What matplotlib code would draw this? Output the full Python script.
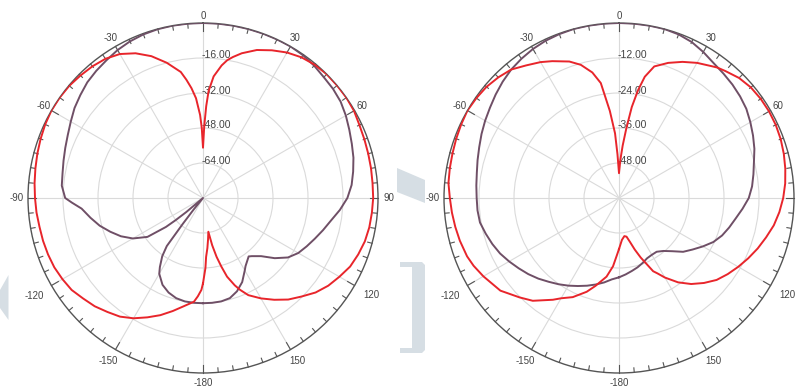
import numpy as np
import matplotlib.pyplot as plt
from matplotlib.patches import Polygon
from matplotlib.transforms import offset_copy

plt.rcParams['font.family'] = ['Liberation Sans', 'DejaVu Sans']

# angle labels, 0 at top, clockwise positive
theta_ticks = [0, 30, 60, 90, 120, 150, 180, 210, 240, 270, 300, 330]
theta_labels = ['0', '30', '60', '90', '120', '150', '-180', '-150', '-120', '-90', '-60', '-30']

# left pattern (dB), range -80..0
left_rings = [-64, -48, -32, -16]
left_red_ang = [-180, -179, -177, -175, -170, -165, -160, -155, -150, -145, -140, -135, -130, -125,
                -120, -115, -110, -105, -100, -95, -90, -85, -80, -75, -70, -65, -60, -55, -50, -45,
                -40, -35, -30, -25, -20, -15, -10, -8, -6, -4, -2, -1, 0, 1, 2, 3, 5, 8, 10, 12, 15,
                20, 25, 30, 35, 40, 45, 50, 55, 60, 65, 70, 75, 80, 85, 90, 95, 100, 105, 110, 115,
                120, 125, 130, 135, 140, 145, 150, 155, 158, 160, 163, 165, 167, 169, 171, 173, 175,
                177, 178, 180]
left_red_db = [-41, -38, -35, -32.4, -29.8, -26.5, -23, -19.8, -16.5, -13.8, -12, -10, -8.5, -6.7,
               -5.8, -5, -4.6, -4.3, -4.1, -3.6, -3.2, -2.7, -2.2, -1.6, -1, -0.4, 0, 0, -0.2, -0.8,
               -1.4, -2.3, -4.0, -7.0, -11, -16, -21.5, -25.4, -29.5, -34.3, -42, -48, -57, -47, -38,
               -31, -24.2, -18.8, -16, -14.1, -11.5, -8, -5.5, -3.2, -1.5, -0.5, 0, 0, 0, -0.3, -1.1,
               -1.5, -1.8, -2.0, -2.2, -2.2, -2.5, -2.8, -3.4, -4.5, -5.8, -8, -10.1, -12.8, -16.3,
               -19.4, -23.2, -27, -31, -34.7, -37.5, -42.4, -47.5, -52.4, -58, -64.4, -61, -57, -53,
               -48, -41]
left_pur_ang = [-180, -175, -170, -165, -160, -155, -150, -148, -145, -143, -142, -141, -139, -132,
                -130, -129, -128, -125, -120, -115, -110, -105, -100, -95, -92, -90, -85, -80, -75,
                -70, -65, -60, -55, -50, -45, -40, -35, -30, -25, -20, -15, -10, -5, 0, 5, 10, 15,
                20, 25, 30, 35, 40, 45, 50, 55, 60, 65, 70, 75, 80, 85, 90, 95, 100, 105, 110, 115,
                120, 125, 130, 135, 140, 142, 145, 148, 150, 155, 160, 165, 170, 175, 180]
left_pur_db = [-31.9, -31.9, -32.0, -32.6, -34.0, -36.2, -40.0, -42.8, -47.5, -52.5, -65, -73, -80,
               -80, -70, -64, -58.5, -49, -43, -38.6, -34.9, -31.1, -27.8, -24.3, -20, -17, -15.2,
               -14.8, -14.0, -13.0, -11.8, -10.2, -8.3, -6.8, -5.2, -4.1, -3.1, -1.9, -1.0, -0.4,
               -0.1, 0, 0, 0, 0, 0, 0, 0, 0, 0, -0.3, -1.0, -1.9, -2.4, -3.2, -4.6, -6.2, -7.6,
               -8.8, -10.3, -11.8, -14.0, -17.2, -20.6, -23.2, -25.6, -27.7, -29.7, -32.6, -37.2,
               -42.4, -45.3, -46.1, -44.8, -43.3, -41.8, -37.6, -34.6, -32.6, -32.0, -31.9, -31.9]

# right pattern (dB), range -60..0
right_rings = [-48, -36, -24, -12]
right_red_ang = [-180, -178, -175, -171, -165, -161, -155, -150, -147, -140, -135, -130, -128, -120,
                 -115, -111, -105, -100, -95, -90, -85, -80, -75, -70, -65, -60, -55, -50, -45, -40,
                 -35, -30, -26, -20, -16, -12, -9, -6, -3.5, -2, 0, 2, 4, 6, 8, 10, 12, 15, 20, 25,
                 30, 35, 37, 40, 45, 50, 55, 60, 65, 70, 75, 80, 85, 90, 95, 100, 105, 110, 115, 120,
                 125, 130, 135, 140, 145, 150, 153, 155, 160, 163, 166, 169, 172, 176, 180]
right_red_db = [-42.5, -40.5, -36.5, -32.7, -28.8, -26, -22.5, -20.3, -18.4, -14, -11.8, -9.5, -8.4,
                -6.3, -5, -4.2, -3.5, -3, -2.5, -2, -1.3, -1.1, -0.9, -0.6, -0.3, 0, -0.3, -0.7,
                -1.5, -2.5, -4.5, -6.2, -7.8, -10.2, -12.5, -16, -20.1, -30, -37.8, -45, -51.5, -47,
                -42, -36, -28.5, -22.5, -17.5, -13.3, -10.7, -8.5, -6.5, -4.8, -4, -3.2, -1.8, -1,
                -0.7, -0.6, -0.7, -1, -1.5, -2.1, -2.8, -3.7, -4.8, -6.1, -7.8, -9.4, -11.1, -12.8,
                -14.5, -16.3, -18.8, -21.5, -24.7, -28.5, -31, -32.3, -38.3, -41.5, -44.5, -46.5,
                -46.8, -45.6, -42.5]
right_pur_ang = list(range(-180, 181, 5))
right_pur_db = [-32.8, -32.0, -30.6, -29.3, -28.0, -26.7, -25.3, -23.9, -22.5, -20.9, -19.4, -18.0,
                -16.5, -15.0, -13.8, -12.7, -11.6, -11.3, -11.2, -10.9, -10.5, -9.8, -9.0, -8.0,
                -7.0, -6.0, -4.8, -3.6, -2.5, -1.7, -1.0, -0.5, -0.2, 0, 0, 0, 0, 0, 0, 0, -0.3,
                -1.0, -2.2, -3.5, -4.3, -5.0, -5.8, -6.7, -8.0, -9.3, -10.6, -12.1, -13.2, -14.2,
                -15.5, -17.5, -19.4, -20.9, -22.4, -24.3, -26.8, -29.2, -31.3, -34.2, -36.3, -37.5,
                -37.5, -37.2, -36.3, -35.4, -34.6, -33.7, -32.8]

RED = '#e8252b'
PURPLE = '#6f4f66'
EDGE = '#555555'
TEXT = '#444444'
W, H = 800, 388

# distance of each angle label from the rim, in pixels
label_gap = {0: 7, 30: 9.5, 60: 9, 90: 10.5, 120: 20, 150: 13.5, 180: 10,
             210: 13.5, 240: 20, 270: 11.5, 300: 9, 330: 9.5}

fig = plt.figure(figsize=(8, 3.88), dpi=100)
fig.patch.set_facecolor('white')

# faint background shapes (pixel coordinates)
shapes = [
    [(0, 290), (8.5, 275), (8.5, 320), (0, 308)],
    [(397, 168), (425, 180), (425, 203), (397, 192)],
    [(400, 262), (422, 262), (425, 265), (425, 350), (422, 353), (400, 353), (400, 348),
     (412, 348), (412, 267), (400, 267)],
]
for pts in shapes:
    fig.add_artist(Polygon([(x / W, 1 - y / H) for x, y in pts], closed=True,
                           transform=fig.transFigure, facecolor='#d6dee4',
                           edgecolor='none', zorder=-1))


def make_polar(cx, cy, r, rmin, rings, curves):
    ax = fig.add_axes([(cx - r) / W, 1 - (cy + r) / H, 2 * r / W, 2 * r / H], projection='polar')
    ax.set_facecolor('white')
    ax.set_theta_zero_location('N')
    ax.set_theta_direction(-1)
    ax.set_ylim(rmin, 0)
    ax.set_thetagrids(theta_ticks, labels=[])
    ax.set_yticks(rings)
    ax.set_yticklabels([])
    ax.tick_params(axis='both', length=0)
    ax.grid(True, color='#dadada', linewidth=0.8)
    ax.spines['polar'].set_color(EDGE)
    ax.spines['polar'].set_linewidth(1.0)

    px = -rmin / r  # dB per pixel
    # tick marks round the rim, every 5 degrees, longer every 30
    for deg in range(0, 360, 5):
        ln = 8 if deg % 30 == 0 else 4.5
        ax.plot([np.radians(deg)] * 2, [-ln * px, 0], color=EDGE, linewidth=0.8,
                clip_on=False, zorder=3)
    for deg, lab in zip(theta_ticks, theta_labels):
        ax.text(np.radians(deg), label_gap[deg] * px, lab, ha='center', va='center',
                fontsize=7, color=TEXT, clip_on=False)

    lift = offset_copy(ax.transData, fig=fig, x=-1, y=2.5, units='dots')
    for v in rings:
        ax.text(0, v, f'{v:.2f}', ha='left', va='center', fontsize=7.5, color=TEXT,
                transform=lift)
    for ang, db, col in curves:
        ax.plot(np.radians(ang), db, color=col, linewidth=1.4, zorder=4)
    ax.set_ylim(rmin, 0)
    return ax


make_polar(203, 198, 175, -80, left_rings,
           [(left_pur_ang, left_pur_db, PURPLE), (left_red_ang, left_red_db, RED)])
make_polar(619, 198, 175, -60, right_rings,
           [(right_pur_ang, right_pur_db, PURPLE), (right_red_ang, right_red_db, RED)])

fig.savefig('out.png', dpi=100)
